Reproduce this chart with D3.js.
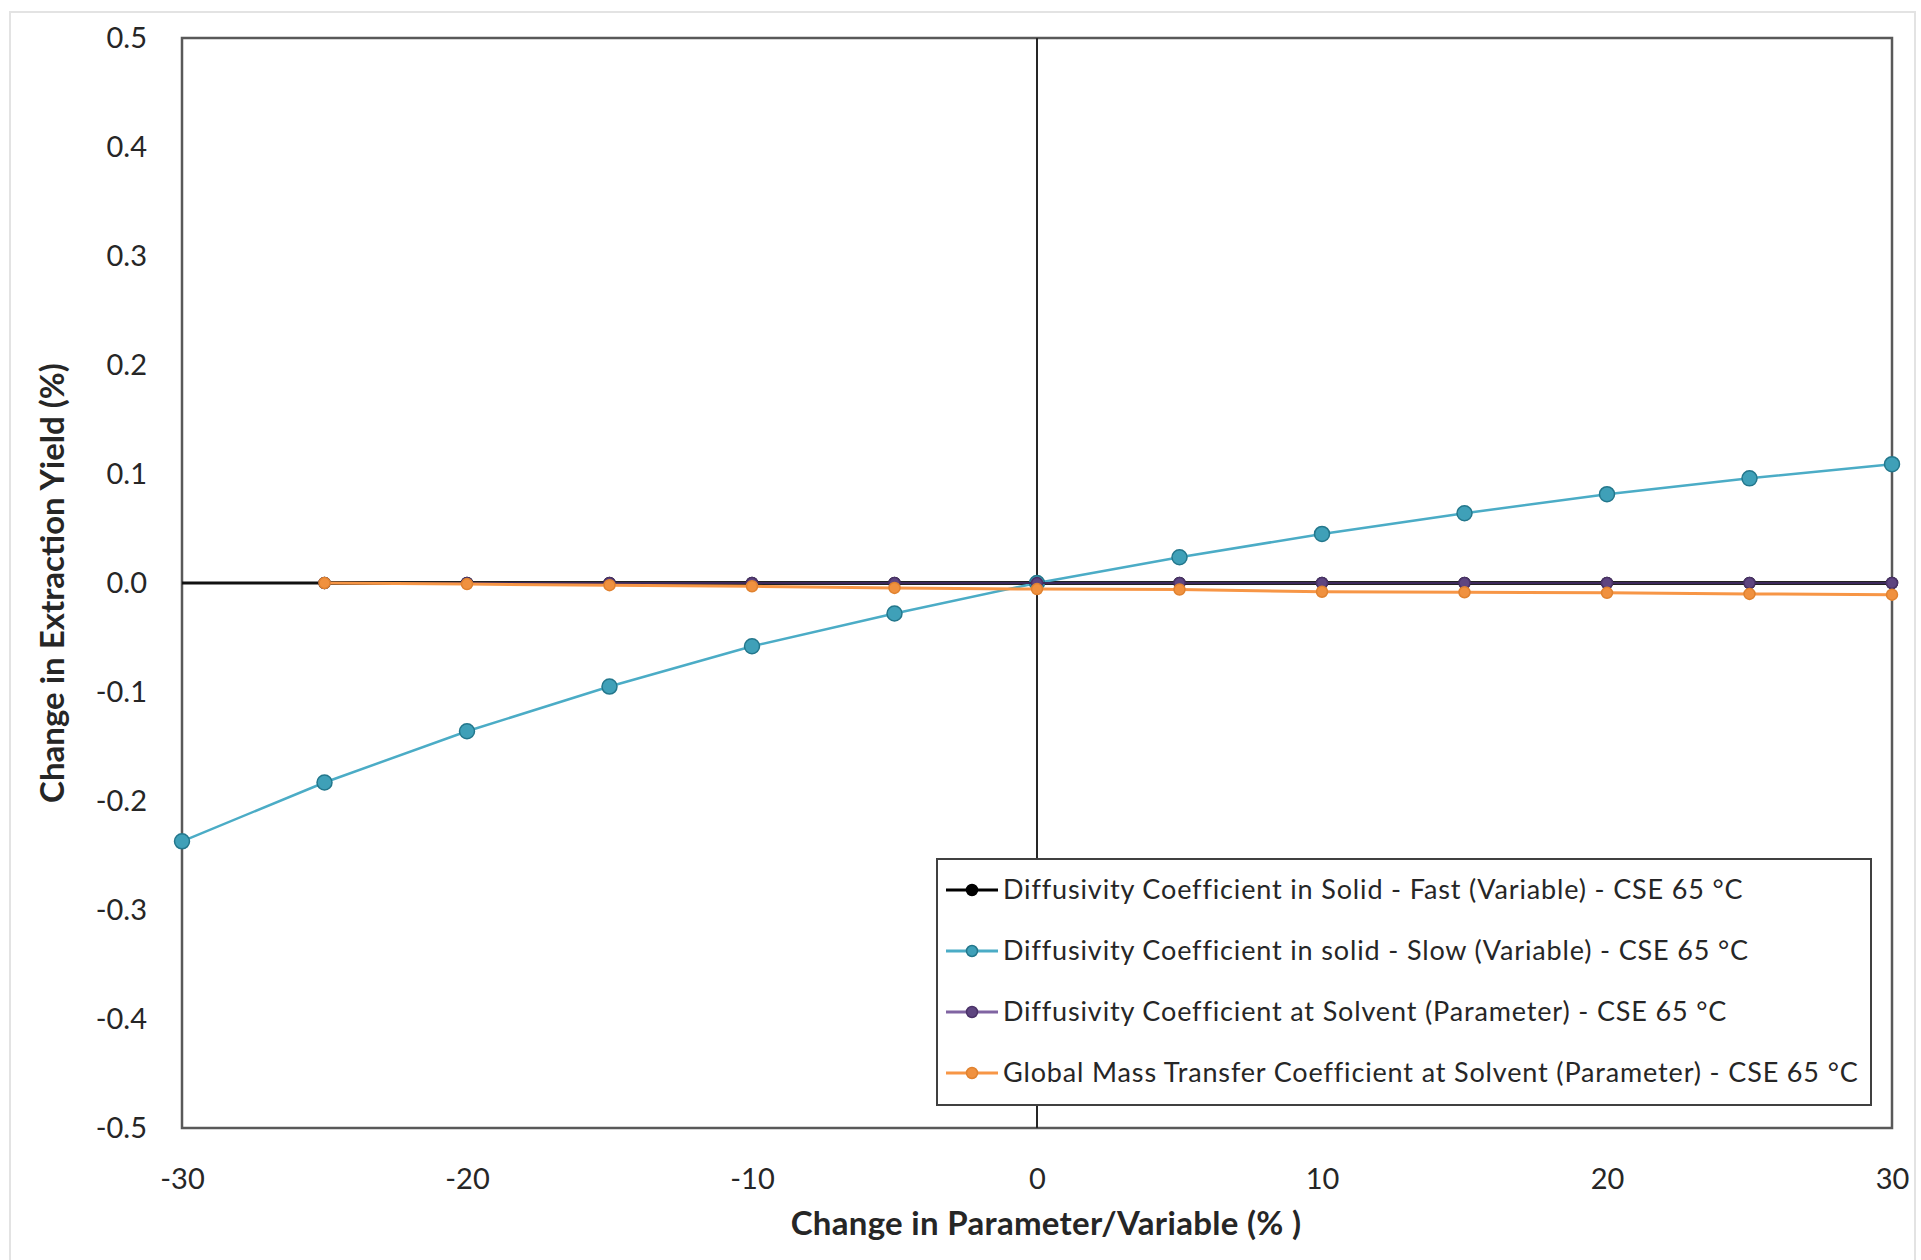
<!DOCTYPE html>
<html>
<head>
<meta charset="utf-8">
<script src="https://cdn.jsdelivr.net/npm/d3@7"></script>
<style>
  html, body { margin: 0; padding: 0; background: #ffffff; }
  svg { display: block; }
  text { font-family: Lato, "Open Sans", sans-serif; fill: #262626; }
</style>
</head>
<body>
<svg id="chart" width="1921" height="1260"></svg>
<script>
// Sensitivity of extraction yield to a ±30 % change in each parameter / variable
const changePct = [-30, -25, -20, -15, -10, -5, 0, 5, 10, 15, 20, 25, 30];
const changePctShort = [-25, -20, -15, -10, -5, 0, 5, 10, 15, 20, 25, 30];
const diffSolidFast = [0, 0, 0, 0, 0, 0, 0, 0, 0, 0, 0, 0];
const diffSolidSlow = [-0.237, -0.183, -0.136, -0.095, -0.058, -0.028, 0, 0.0236, 0.045, 0.064, 0.0815, 0.096, 0.109];
const diffSolvent = [0, 0, 0, 0, 0, 0, 0, 0, 0, 0, 0, 0];
const massTransfer = [0, -0.001, -0.002, -0.003, -0.0045, -0.0056, -0.006, -0.008, -0.0085, -0.009, -0.010, -0.0107];

const xTickValues = [-30, -20, -10, 0, 10, 20, 30];
const yTickValues = [-0.5, -0.4, -0.3, -0.2, -0.1, 0, 0.1, 0.2, 0.3, 0.4, 0.5];

const seriesNames = [
  "Diffusivity Coefficient in Solid - Fast (Variable) - CSE 65 °C",
  "Diffusivity Coefficient in solid - Slow (Variable) - CSE 65 °C",
  "Diffusivity Coefficient at Solvent (Parameter) - CSE 65 °C",
  "Global Mass Transfer Coefficient at Solvent (Parameter) - CSE 65 °C"
];

const series = [
  { name: seriesNames[0], xs: changePctShort, ys: diffSolidFast, line: "#000000", fill: "#000000", stroke: "#000000", width: 3.5, r: 5.5 },
  { name: seriesNames[1], xs: changePct, ys: diffSolidSlow, line: "#4bacc6", fill: "#3fa0b8", stroke: "#23778c", width: 2.5, r: 7.5 },
  { name: seriesNames[2], xs: changePctShort, ys: diffSolvent, line: "#3d2a5c", fill: "#5e4580", stroke: "#4a3268", width: 2, r: 5.5 },
  { name: seriesNames[3], xs: changePctShort, ys: massTransfer, line: "#f79646", fill: "#f0913f", stroke: "#e0822f", width: 3, r: 5.5 }
];
const legendLineColors = ["#000000", "#4bacc6", "#8064a2", "#f79646"];

const svg = d3.select("#chart");
const plot = { left: 182, right: 1892, top: 38, bottom: 1128 };

const x = d3.scaleLinear().domain([-30, 30]).range([plot.left, plot.right]);
const y = d3.scaleLinear().domain([-0.5, 0.5]).range([plot.bottom, plot.top]);

const hyphenLocale = d3.formatLocale({ decimal: ".", thousands: ",", grouping: [3], currency: ["", ""], minus: "-" });
const fmtY = hyphenLocale.format(".1f");
const fmtX = hyphenLocale.format("d");

// light outer chart frame
svg.append("rect")
  .attr("x", 10).attr("y", 12).attr("width", 1905).attr("height", 1270)
  .attr("fill", "none").attr("stroke", "#e3e3e3").attr("stroke-width", 2);

// plot area border
svg.append("rect")
  .attr("x", plot.left).attr("y", plot.top)
  .attr("width", plot.right - plot.left).attr("height", plot.bottom - plot.top)
  .attr("fill", "#ffffff").attr("stroke", "#595959").attr("stroke-width", 2.5);

// tick labels
const yAxis = svg.append("g")
  .attr("transform", `translate(${plot.left},0)`)
  .call(d3.axisLeft(y).tickValues(yTickValues).tickFormat(fmtY).tickSize(0).tickPadding(35));
yAxis.select(".domain").remove();
yAxis.selectAll("text").style("font-size", "29px").style("font-family", "Lato, sans-serif").attr("fill", "#262626");

const xAxis = svg.append("g")
  .attr("transform", `translate(0,${plot.bottom})`)
  .call(d3.axisBottom(x).tickValues(xTickValues).tickFormat(fmtX).tickSize(0).tickPadding(40));
xAxis.select(".domain").remove();
xAxis.selectAll("text").style("font-size", "29px").style("font-family", "Lato, sans-serif").attr("fill", "#262626");

// zero cross lines
svg.append("line")
  .attr("x1", x(0)).attr("x2", x(0)).attr("y1", plot.top).attr("y2", plot.bottom)
  .attr("stroke", "#262626").attr("stroke-width", 2);
svg.append("line")
  .attr("x1", plot.left).attr("x2", plot.right).attr("y1", y(0)).attr("y2", y(0))
  .attr("stroke", "#111111").attr("stroke-width", 3.2);

// series
const lineGen = d3.line().x(d => x(d[0])).y(d => y(d[1]));
series.forEach(s => {
  const pts = s.xs.map((v, i) => [v, s.ys[i]]);
  const g = svg.append("g");
  g.append("path").datum(pts)
    .attr("d", lineGen).attr("fill", "none")
    .attr("stroke", s.line).attr("stroke-width", s.width);
  g.selectAll("circle").data(pts).enter().append("circle")
    .attr("cx", d => x(d[0])).attr("cy", d => y(d[1])).attr("r", s.r)
    .attr("fill", s.fill).attr("stroke", s.stroke).attr("stroke-width", 1.5);
});

// legend
const legend = { x: 937, y: 859, w: 934, h: 246, row0: 31, rowStep: 61 };
const lg = svg.append("g");
lg.append("rect")
  .attr("x", legend.x).attr("y", legend.y).attr("width", legend.w).attr("height", legend.h)
  .attr("fill", "#ffffff").attr("stroke", "#404040").attr("stroke-width", 2);
series.forEach((s, i) => {
  const cy = legend.y + legend.row0 + i * legend.rowStep;
  lg.append("line")
    .attr("x1", legend.x + 9).attr("x2", legend.x + 61).attr("y1", cy).attr("y2", cy)
    .attr("stroke", legendLineColors[i]).attr("stroke-width", 3);
  lg.append("circle")
    .attr("cx", legend.x + 35).attr("cy", cy).attr("r", 5.5)
    .attr("fill", s.fill).attr("stroke", s.stroke).attr("stroke-width", 1.5);
  lg.append("text")
    .attr("x", legend.x + 66).attr("y", cy).attr("dy", "0.35em")
    .style("font-size", "27px").style("letter-spacing", "0.85px").text(s.name);
});

// axis titles
svg.append("text")
  .attr("x", x(0) + 9).attr("y", 1223).attr("dy", "0.35em")
  .attr("text-anchor", "middle")
  .style("font-size", "33px").style("font-weight", "bold")
  .style("letter-spacing", "0.3px")
  .text("Change in Parameter/Variable (% )");

svg.append("text")
  .attr("transform", `translate(52,${583}) rotate(-90)`)
  .attr("dy", "0.35em")
  .attr("text-anchor", "middle")
  .style("font-size", "33px").style("font-weight", "bold")
  .text("Change in Extraction Yield (%)");
</script>
</body>
</html>
